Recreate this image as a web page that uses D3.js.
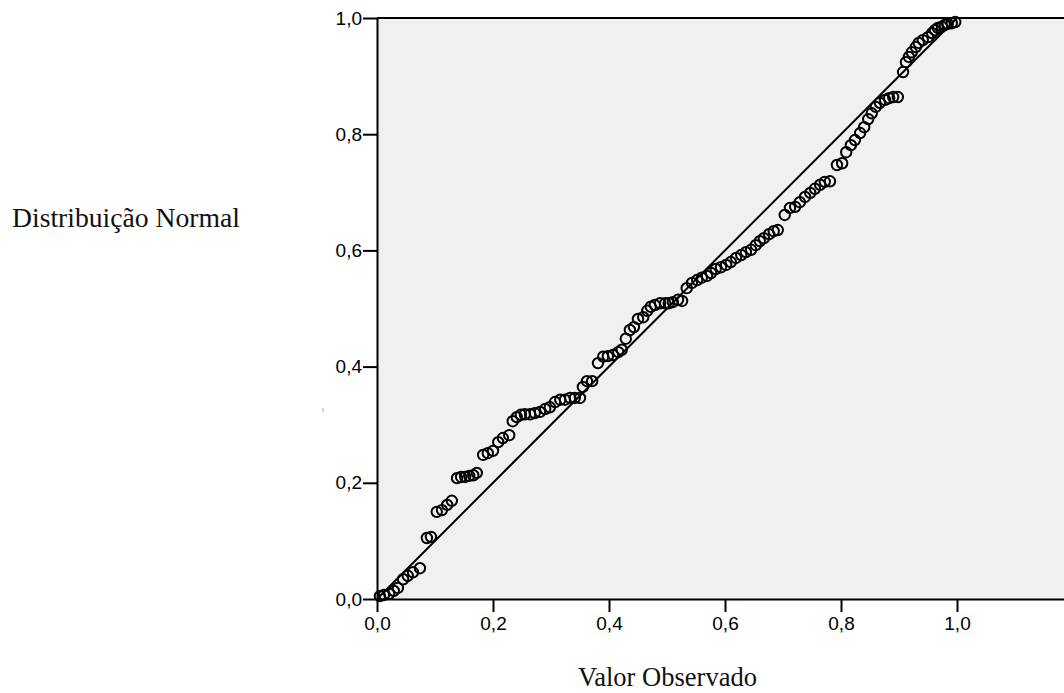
<!DOCTYPE html>
<html>
<head>
<meta charset="utf-8">
<script src="https://cdn.jsdelivr.net/npm/d3@7"></script>
<style>
  body { margin: 0; background: #fff; }
  svg { display: block; }
</style>
</head>
<body>
<svg id="chart"></svg>
<script>
/// dimensions ///
const width = 1064;
const height = 693;
const plot = { left: 377, top: 18, bottom: 599, right: 1073 };

/// data: observed cumulative probability vs expected (normal) ///
const observed = [
  0.005, 0.012, 0.021, 0.029, 0.036,
  0.045, 0.053, 0.062, 0.074,
  0.086, 0.093,
  0.103, 0.112, 0.121, 0.129,
  0.138, 0.145, 0.152, 0.159, 0.166, 0.172,
  0.183, 0.191, 0.200,
  0.209, 0.217, 0.228,
  0.234, 0.241, 0.248, 0.255, 0.264, 0.272, 0.281, 0.290, 0.298,
  0.307, 0.316, 0.324, 0.333, 0.341, 0.350,
  0.355, 0.362, 0.371,
  0.381, 0.390, 0.398, 0.407, 0.416, 0.422,
  0.429, 0.436, 0.443, 0.450, 0.459, 0.466,
  0.472, 0.479, 0.488, 0.497, 0.503, 0.510, 0.519, 0.526,
  0.534, 0.543, 0.552, 0.560, 0.569, 0.576, 0.584, 0.593, 0.602, 0.610,
  0.619, 0.628, 0.636, 0.645, 0.653, 0.660, 0.667, 0.676, 0.684, 0.691,
  0.703, 0.712, 0.721, 0.729, 0.738, 0.747, 0.755, 0.764, 0.772, 0.781,
  0.793, 0.802,
  0.809, 0.817, 0.824, 0.833, 0.840, 0.847, 0.853, 0.860, 0.867, 0.876, 0.883, 0.890, 0.898,
  0.907,
  0.912, 0.917, 0.922, 0.929, 0.934,
  0.941, 0.950, 0.957, 0.962, 0.967, 0.974, 0.979, 0.984, 0.991, 0.997
];
const expected = [
  0.005, 0.007, 0.009, 0.014, 0.019,
  0.034, 0.040, 0.046, 0.053,
  0.105, 0.107,
  0.150, 0.153, 0.162, 0.169,
  0.208, 0.210, 0.210, 0.212, 0.213, 0.217,
  0.248, 0.251, 0.255,
  0.270, 0.277, 0.282,
  0.306, 0.313, 0.317, 0.318, 0.318, 0.320, 0.322, 0.327, 0.330,
  0.339, 0.343, 0.343, 0.346, 0.346, 0.346,
  0.365, 0.375, 0.375,
  0.406, 0.417, 0.418, 0.420, 0.425, 0.429,
  0.448, 0.463, 0.468, 0.482, 0.485, 0.496,
  0.503, 0.506, 0.509, 0.509, 0.509, 0.511, 0.515, 0.513,
  0.535, 0.544, 0.549, 0.553, 0.556, 0.561, 0.568, 0.571, 0.575, 0.580,
  0.587, 0.592, 0.597, 0.601, 0.609, 0.616, 0.621, 0.628, 0.633, 0.635,
  0.661, 0.673, 0.675, 0.683, 0.692, 0.699, 0.706, 0.713, 0.718, 0.719,
  0.747, 0.750,
  0.769, 0.781, 0.790, 0.802, 0.812, 0.826, 0.836, 0.847, 0.854, 0.859, 0.862, 0.864, 0.864,
  0.907,
  0.924, 0.933, 0.941, 0.950, 0.957,
  0.962, 0.967, 0.974, 0.979, 0.983, 0.985, 0.988, 0.990, 0.991, 0.993
];
const tickValues = [0, 0.2, 0.4, 0.6, 0.8, 1.0];
const xTitle = "Valor Observado";
const yTitle = "Distribuição Normal";

const points = observed.map((v, i) => ({ x: v, y: expected[i] }));

const svg = d3.select("#chart").attr("width", width).attr("height", height);

/// scales ///
const xScale = d3.scaleLinear().domain([0, 1.2]).range([plot.left, plot.right]);
const yScale = d3.scaleLinear().domain([0, 1]).range([plot.bottom, plot.top]);
const fmt = d => d3.format(".1f")(d).replace(".", ",");

/// plot background ///
svg.append("rect")
  .attr("x", plot.left)
  .attr("y", plot.top)
  .attr("width", plot.right - plot.left)
  .attr("height", plot.bottom - plot.top)
  .attr("fill", "#f0f0f0");

// top border
svg.append("line")
  .attr("x1", plot.left).attr("x2", plot.right)
  .attr("y1", plot.top).attr("y2", plot.top)
  .attr("stroke", "#000").attr("stroke-width", 2);

/// reference line ///
svg.append("line")
  .attr("x1", xScale(0)).attr("y1", yScale(0))
  .attr("x2", xScale(1)).attr("y2", yScale(1))
  .attr("stroke", "#000").attr("stroke-width", 2);

/// points ///
svg.append("g")
  .selectAll("circle")
  .data(points)
  .join("circle")
    .attr("cx", d => xScale(d.x))
    .attr("cy", d => yScale(d.y))
    .attr("r", 5.2)
    .attr("fill", "none")
    .attr("stroke", "#000")
    .attr("stroke-width", 2);

/// axes ///
const styleAxis = g => g
  .call(g => g.select(".domain").attr("stroke-width", 2))
  .call(g => g.selectAll(".tick line").attr("stroke-width", 2))
  .call(g => g.selectAll("text")
    .attr("fill", "#000")
    .style("font-family", "'Liberation Sans', Arial, sans-serif")
    .style("font-size", "19px"));

svg.append("g")
  .attr("transform", `translate(0, ${plot.bottom})`)
  .call(d3.axisBottom(xScale).tickValues(tickValues).tickFormat(fmt)
    .tickSize(13).tickPadding(5).tickSizeOuter(0))
  .call(styleAxis);

svg.append("g")
  .attr("transform", `translate(${plot.left}, 0)`)
  .call(d3.axisLeft(yScale).tickValues(tickValues).tickFormat(fmt)
    .tickSize(14).tickPadding(1).tickSizeOuter(0))
  .call(styleAxis);

/// titles ///
svg.append("text")
  .attr("x", 12)
  .attr("y", 227)
  .attr("textLength", 228)
  .attr("lengthAdjust", "spacingAndGlyphs")
  .style("font-family", "'Liberation Serif', 'DejaVu Serif', serif")
  .style("font-size", "27px")
  .attr("fill", "#111")
  .text(yTitle);

svg.append("text")
  .attr("x", 578)
  .attr("y", 686)
  .attr("textLength", 179)
  .attr("lengthAdjust", "spacingAndGlyphs")
  .style("font-family", "'Liberation Serif', 'DejaVu Serif', serif")
  .style("font-size", "27px")
  .attr("fill", "#111")
  .text(xTitle);

// small stray mark left of the axis
svg.append("line")
  .attr("x1", 323).attr("x2", 323)
  .attr("y1", 408).attr("y2", 412)
  .attr("stroke", "#aaa").attr("stroke-width", 1);
</script>
</body>
</html>
